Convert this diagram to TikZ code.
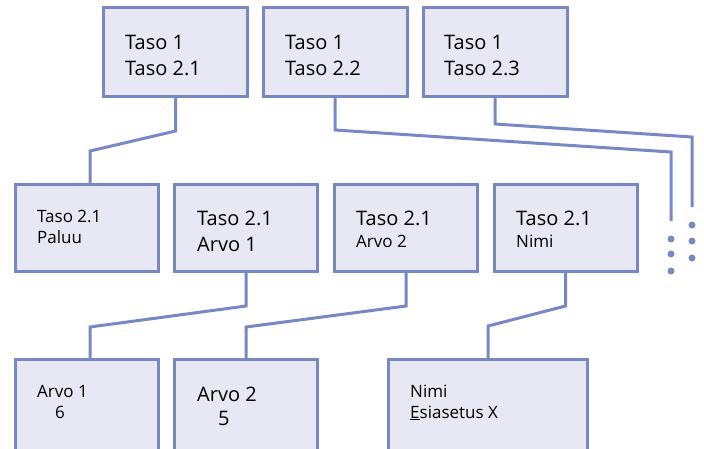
\documentclass[tikz,border=0pt]{standalone}
\usepackage{fontspec}
\setmainfont{Open Sans}
\usepackage{tikz}
\usetikzlibrary{positioning}
\definecolor{lineblue}{HTML}{7888C4}
\definecolor{boxfill}{HTML}{E8E8F4}
\tikzset{x=1pt, y=-1pt,
every box/.style={ % Sets the properties for each box
draw=lineblue,
fill=boxfill,
line width=3pt,
inner sep=0pt,
minimum height=89pt},
link/.style={ % Sets the properties for each connector
draw=lineblue,
line width=3pt},
big/.style={anchor=base west, inner sep=0pt, font=\fontsize{20}{23}\selectfont},
small/.style={anchor=base west, inner sep=0pt, font=\fontsize{17}{20}\selectfont}}

\begin{document}
\begin{tikzpicture}
\useasboundingbox (0,0) rectangle (704,448);
\clip (0,0) rectangle (704,448);
% top row
\node[every box, minimum width=144pt] (t1) at (175.5,52) {};
\node[every box, minimum width=144pt] (t2) at (335,52) {};
\node[every box, minimum width=144pt] (t3) at (495,52) {};
% middle row
\node[every box, minimum width=143pt, minimum height=87pt] (a) at (87,228) {};
\node[every box, minimum width=143pt, minimum height=87pt] (b) at (246,228) {};
\node[every box, minimum width=143pt, minimum height=87pt] (c) at (406,228) {};
\node[every box, minimum width=143pt, minimum height=87pt] (d) at (565.5,228) {};
% bottom row
\node[every box, minimum width=143pt, minimum height=100pt] (e) at (87,409.5) {};
\node[every box, minimum width=143pt, minimum height=100pt] (f) at (246,409.5) {};
\node[every box, minimum width=199pt, minimum height=100pt] (g) at (488,409.5) {};
% ends of the cut-off branches
\coordinate (more1) at (671,221);
\coordinate (more2) at (692,207);
\foreach \y in {239,254,271} \fill[lineblue] (671,\y) circle (3.5pt);
\foreach \y in {225,241,258} \fill[lineblue] (692,\y) circle (3.5pt);
% connectors
\draw[link] (t1.south) -- (t1.south |- 0,131) -- (90,151) -- (90,184.5);
\draw[link] (t2.south) -- (t2.south |- 0,130) -- (more1 |- 0,152) -- (more1);
\draw[link] (t3.south) -- (t3.south |- 0,124) -- (more2 |- 0,137) -- (more2);
\draw[link] (b.south) -- (b.south |- 0,306) -- (90,327) -- (90,359.5);
\draw[link] (c.south) -- (c.south |- 0,306) -- (f.north |- 0,327) -- (f.north);
\draw[link] (d.south) -- (d.south |- 0,306) -- (g.north |- 0,326) -- (g.north);
% texts
\node[big] (t1a) at (125,49) {Taso 1};
\node[big] (t1b) at (125,75) {Taso 2.1};
\node[big] (t2a) at (285,49) {Taso 1};
\node[big] (t2b) at (285,75) {Taso 2.2};
\node[big] (t3a) at (444,49) {Taso 1};
\node[big] (t3b) at (444,75) {Taso 2.3};
\node[small] (aa) at (37,222) {Taso 2.1};
\node[small] (ab) at (37,243) {Paluu};
\node[big] (ba) at (197,225) {Taso 2.1};
\node[big] (bb) at (197,251) {Arvo 1};
\node[big] (ca) at (356,225) {Taso 2.1};
\node[small] (cb) at (356,247) {Arvo 2};
\node[big] (da) at (516,225) {Taso 2.1};
\node[small] (db) at (516,247) {Nimi};
\node[small] (ea) at (37,397) {Arvo 1};
\node[small] (eb) at (55,418) {6};
\node[big] (fa) at (197,401) {Arvo 2};
\node[big] (fb) at (218,425) {5};
\node[small] (ga) at (410,397) {Nimi};
\node[small] (gb) at (410,418) {\underline{E}siasetus X};
\end{tikzpicture}
\end{document}
